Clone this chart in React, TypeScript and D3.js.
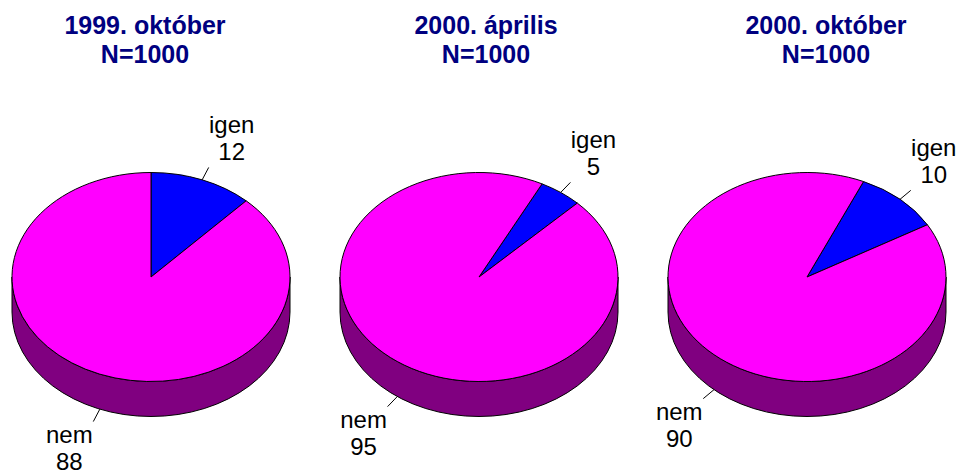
import * as d3 from 'd3'

const categories = ['igen', 'nem']
const surveys = ['1999. október', '2000. április', '2000. október']
const sampleSizes = [1000, 1000, 1000]
const igenValues = [12, 5, 10]
const nemValues = [88, 95, 90]
// first slice angle of each pie, degrees clockwise from 12 o'clock
const firstSliceAngles = [0, 27, 24]

const topColors = ['#0000ff', '#ff00ff']
const sideColors = ['#000080', '#800080']

type Slice = { label: string; value: number; index: number }

const width = 958
const height = 475
const pieCx = [151, 479, 807]
const titleX = [145, 486, 826]
const cy = 277
const rx = 139
const ry = 104.5
const depth = 35
const leaderLen = 14

function Pie3D({ idx }: { idx: number }) {
  const cx = pieCx[idx]
  const slices: Slice[] = categories.map((label, i) => ({
    label,
    value: i === 0 ? igenValues[idx] : nemValues[idx],
    index: i,
  }))
  const start = (firstSliceAngles[idx] * Math.PI) / 180
  const arcs = d3
    .pie<Slice>()
    .sort(null)
    .value((d) => d.value)
    .startAngle(start)
    .endAngle(start + 2 * Math.PI)(slices)

  const pt = (a: number, dy = 0): [number, number] => [cx + rx * Math.sin(a), cy - ry * Math.cos(a) + dy]

  const topPath = (a0: number, a1: number) => {
    const p0 = pt(a0)
    const p1 = pt(a1)
    const large = a1 - a0 > Math.PI ? 1 : 0
    return `M${cx},${cy}L${p0[0]},${p0[1]}A${rx},${ry} 0 ${large} 1 ${p1[0]},${p1[1]}Z`
  }

  const sidePaths = (a0: number, a1: number) => {
    const out: string[] = []
    for (const k of [-1, 0, 1]) {
      const lo = Math.max(a0, Math.PI / 2 + 2 * Math.PI * k)
      const hi = Math.min(a1, (3 * Math.PI) / 2 + 2 * Math.PI * k)
      if (hi > lo) {
        const p0 = pt(lo)
        const p1 = pt(hi)
        const q1 = pt(hi, depth)
        const q0 = pt(lo, depth)
        out.push(
          `M${p0[0]},${p0[1]}A${rx},${ry} 0 0 1 ${p1[0]},${p1[1]}L${q1[0]},${q1[1]}A${rx},${ry} 0 0 0 ${q0[0]},${q0[1]}Z`
        )
      }
    }
    return out
  }

  return (
    <g>
      <text
        x={titleX[idx]}
        textAnchor="middle"
        fill="#000080"
        fontWeight="bold"
        fontSize={25}
        fontFamily="'Liberation Sans', Arial, sans-serif"
      >
        <tspan x={titleX[idx]} y={34}>{surveys[idx]}</tspan>
        <tspan x={titleX[idx]} y={63}>N={sampleSizes[idx]}</tspan>
      </text>

      {arcs.map((a) =>
        sidePaths(a.startAngle, a.endAngle).map((d, j) => (
          <path key={`side-${a.index}-${j}`} d={d} fill={sideColors[a.data.index]} stroke="#000" strokeWidth={1} />
        ))
      )}

      {arcs.map((a) => (
        <path
          key={`top-${a.index}`}
          d={topPath(a.startAngle, a.endAngle)}
          fill={topColors[a.data.index]}
          stroke="#000"
          strokeWidth={1}
        />
      ))}

      {arcs.map((a) => {
        const m = (a.startAngle + a.endAngle) / 2
        const front = Math.cos(m) < 0
        const s = pt(m, front ? depth : 0)
        const nx = rx * Math.sin(m)
        const ny = -ry * Math.cos(m)
        const len = Math.hypot(nx, ny)
        const e: [number, number] = [s[0] + (nx / len) * leaderLen, s[1] + (ny / len) * leaderLen]
        const right = Math.sin(m) > 0
        const tx = right ? e[0] + 23 : e[0] - 24
        const b1 = right ? e[1] - 34 : e[1] + 21
        const b2 = b1 + 27
        return (
          <g key={`lab-${a.index}`}>
            <line x1={s[0]} y1={s[1]} x2={e[0]} y2={e[1]} stroke="#000" strokeWidth={1} />
            <text textAnchor="middle" fontSize={24} fill="#000" fontFamily="'Liberation Sans', Arial, sans-serif">
              <tspan x={tx} y={b1}>{a.data.label}</tspan>
              <tspan x={tx} y={b2}>{a.data.value}</tspan>
            </text>
          </g>
        )
      })}
    </g>
  )
}

export default function App() {
  return (
    <svg
      width={width}
      height={height}
      viewBox={`0 0 ${width} ${height}`}
      style={{ position: 'absolute', left: 0, top: 0, background: '#fff' }}
    >
      {surveys.map((_, i) => (
        <Pie3D key={i} idx={i} />
      ))}
    </svg>
  )
}
